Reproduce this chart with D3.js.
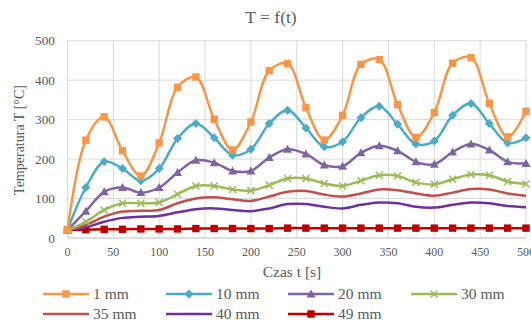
<!DOCTYPE html>
<html>
<head>
<meta charset="utf-8">
<script src="https://cdn.jsdelivr.net/npm/d3@7"></script>
<style>
  body { margin: 0; background: #fff; }
  text { font-family: "Liberation Serif", "Times New Roman", serif; }
</style>
</head>
<body>
<div id="chart"></div>
<script>
// data (time step 20 s)
const times = d3.range(0, 501, 20);
const seriesNames = ["1 mm", "10 mm", "20 mm", "30 mm", "35 mm", "40 mm", "49 mm"];
const t1mm  = [20, 248, 307, 221, 157, 241, 382, 408, 301, 223, 294, 424, 442, 330, 248, 311, 440, 452, 338, 255, 318, 443, 457, 341, 256, 321];
const t10mm = [20, 128, 193, 176, 145, 176, 252, 290, 254, 210, 225, 290, 324, 279, 231, 244, 305, 334, 288, 238, 246, 311, 341, 290, 241, 254];
const t20mm = [20, 68, 117, 128, 115, 128, 166, 197, 191, 170, 170, 204, 225, 213, 185, 182, 216, 234, 221, 193, 187, 218, 238, 223, 193, 189];
const t30mm = [20, 41, 71, 88, 88, 90, 111, 132, 132, 123, 120, 134, 151, 151, 138, 132, 145, 159, 157, 141, 136, 149, 161, 159, 143, 137];
const t35mm = [20, 33, 54, 67, 69, 71, 88, 100, 103, 98, 94, 105, 117, 119, 110, 105, 113, 123, 121, 113, 107, 115, 124, 123, 113, 107];
const t40mm = [20, 27, 41, 51, 54, 56, 65, 73, 75, 71, 68, 75, 86, 86, 79, 75, 84, 90, 88, 79, 77, 84, 90, 88, 81, 78];
const t49mm = [20, 21, 22, 22, 23, 23, 23, 24, 24, 24, 24, 24, 25, 25, 25, 25, 25, 25, 25, 25, 25, 25, 25, 25, 25, 25];
const xTicks = [0, 50, 100, 150, 200, 250, 300, 350, 400, 450, 500];
const yTicks = [0, 100, 200, 300, 400, 500];

const colors  = ["#F79646", "#4BACC6", "#8064A2", "#9BBB59", "#C0504D", "#7030A0", "#C00000"];
const markers = ["square", "diamond", "triangle", "cross", null, null, "square"];
const allValues = [t1mm, t10mm, t20mm, t30mm, t35mm, t40mm, t49mm];

const series = seriesNames.map((name, i) => ({
  name, color: colors[i], marker: markers[i],
  values: times.map((t, j) => ({ t, v: allValues[i][j] }))
}));

const W = 531, H = 320;

const svg = d3.select("#chart").append("svg")
  .attr("width", W).attr("height", H);

const x = d3.scaleLinear().domain([0, 500]).range([67.5, 526]);
const y = d3.scaleLinear().domain([0, 500]).range([238, 40.7]);

// gridlines
svg.append("g")
  .selectAll("line").data(yTicks).enter().append("line")
  .attr("x1", x(0)).attr("x2", x(500))
  .attr("y1", d => y(d)).attr("y2", d => y(d))
  .attr("stroke", d => d === 0 ? "#BFBFBF" : "#D9D9D9").attr("stroke-width", 1);
svg.append("g")
  .selectAll("line").data(xTicks).enter().append("line")
  .attr("x1", d => x(d)).attr("x2", d => x(d))
  .attr("y1", y(0)).attr("y2", y(500))
  .attr("stroke", "#D9D9D9").attr("stroke-width", 1);

// tick labels
svg.append("g").selectAll("text").data(xTicks).enter().append("text")
  .attr("x", d => x(d)).attr("y", 256)
  .attr("text-anchor", "middle")
  .attr("font-size", 12).attr("fill", "#595959")
  .text(d => d);
svg.append("g").selectAll("text").data(yTicks).enter().append("text")
  .attr("x", 55).attr("y", d => y(d) + 4.5)
  .attr("text-anchor", "end")
  .attr("font-size", 13.3).attr("fill", "#595959")
  .text(d => d);

// titles
svg.append("text")
  .attr("x", 271).attr("y", 23)
  .attr("text-anchor", "middle")
  .attr("font-size", 17.5).attr("fill", "#595959")
  .text("T = f(t)");
svg.append("text")
  .attr("x", 292).attr("y", 277)
  .attr("text-anchor", "middle")
  .attr("font-size", 15.5).attr("fill", "#595959")
  .text("Czas t [s]");
svg.append("text")
  .attr("transform", "translate(24,140) rotate(-90)")
  .attr("text-anchor", "middle")
  .attr("font-size", 14).attr("fill", "#595959")
  .text("Temperatura T [°C]");

const line = d3.line()
  .x(d => x(d.t)).y(d => y(d.v))
  .curve(d3.curveCatmullRom.alpha(0.5));

function drawMarker(g, type, color, cx, cy) {
  if (type === "square") {
    g.append("rect").attr("x", cx - 3.7).attr("y", cy - 3.7)
      .attr("width", 7.4).attr("height", 7.4).attr("fill", color);
  } else if (type === "diamond") {
    g.append("path").attr("d", `M${cx},${cy - 4.5}L${cx + 4.5},${cy}L${cx},${cy + 4.5}L${cx - 4.5},${cy}Z`)
      .attr("fill", color);
  } else if (type === "triangle") {
    g.append("path").attr("d", `M${cx},${cy - 4.5}L${cx + 4.5},${cy + 3.5}L${cx - 4.5},${cy + 3.5}Z`)
      .attr("fill", color);
  } else if (type === "cross") {
    g.append("path").attr("d", `M${cx - 3.5},${cy - 3.5}L${cx + 3.5},${cy + 3.5}M${cx - 3.5},${cy + 3.5}L${cx + 3.5},${cy - 3.5}`)
      .attr("stroke", color).attr("stroke-width", 1.5).attr("fill", "none");
  }
}

// draw series bottom-up so 1 mm ends on top
const plot = svg.append("g");
series.slice().reverse().forEach(s => {
  const g = plot.append("g");
  g.append("path").datum(s.values)
    .attr("fill", "none").attr("stroke", s.color)
    .attr("stroke-width", 2.5)
    .attr("d", line);
  if (s.marker) {
    s.values.forEach(d => drawMarker(g, s.marker, s.color, x(d.t), y(d.v)));
  }
});

// legend
const legendPos = [[43, 294], [166, 294], [288, 294], [411, 294], [43, 314], [166, 314], [288, 314]];
series.forEach((s, i) => {
  const [lx, ly] = legendPos[i];
  const g = svg.append("g");
  g.append("line").attr("x1", lx).attr("x2", lx + 46)
    .attr("y1", ly).attr("y2", ly)
    .attr("stroke", s.color).attr("stroke-width", 2.5);
  if (s.marker) drawMarker(g, s.marker, s.color, lx + 23, ly);
  g.append("text").attr("x", lx + 50).attr("y", ly + 5)
    .attr("font-size", 15.5).attr("fill", "#595959")
    .text(s.name);
});
</script>
</body>
</html>
